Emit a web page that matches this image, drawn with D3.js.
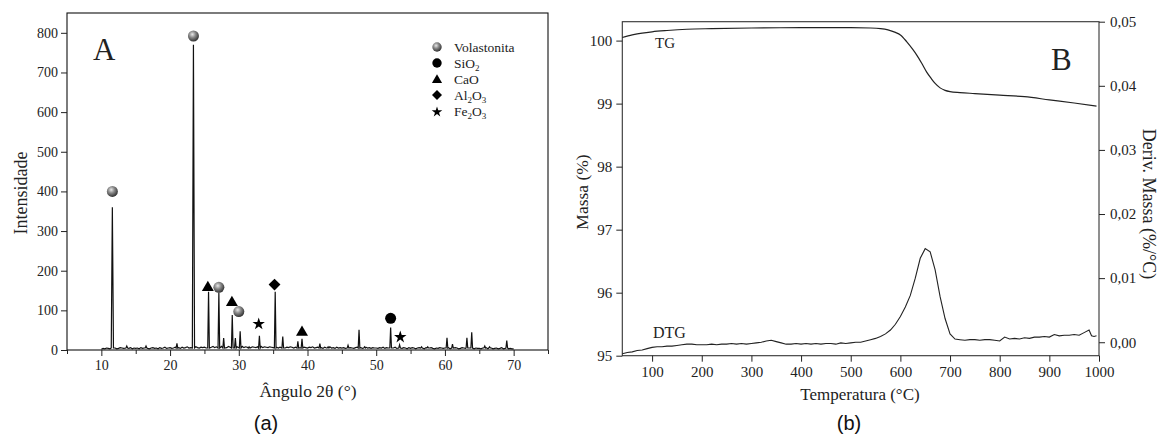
<!DOCTYPE html>
<html>
<head>
<meta charset="utf-8">
<script src="https://cdn.jsdelivr.net/npm/d3@7"></script>
<style>
  body { margin: 0; background: #fff; }
  svg { display: block; }
  .tick text { fill: #222; }
  .tick line { stroke: #222; }
  .title { font-family: "Liberation Serif", "Times New Roman", serif; fill: #222; }
  .caption { font-family: "Liberation Sans", "Open Sans", sans-serif; fill: #111; font-size: 20px; }
</style>
</head>
<body>
<div id="vis"></div>
<script>
// Two panels: (a) XRD pattern with phase markers, (b) TG / DTG curves

/* *************************** Data ***************************** */

// (a) diffractogram: baseline read every 0.25 deg from 10 to 70
var baseStart = 10;
var baseStep = 0.25;
var baseCounts = [
    2, 4, 3, 5, 4, 3, 6, 4, 5, 3, 4, 6, 5, 4, 3, 5, 4, 6, 3, 5,
    4, 5, 3, 6, 4, 5, 7, 4, 3, 5, 6, 4, 5, 3, 6, 4, 5, 7, 4, 5,
    6, 4, 5, 7, 5, 6, 4, 7, 5, 6, 8, 5, 6, 7, 5, 8, 6, 5, 7, 6,
    7, 5, 8, 6, 7, 9, 6, 8, 7, 6, 9, 7, 8, 6, 9, 7, 8, 10, 7, 8,
    8, 7, 9, 6, 8, 7, 9, 6, 8, 7, 6, 8, 7, 9, 6, 8, 7, 6, 8, 7,
    6, 8, 7, 5, 7, 6, 8, 5, 7, 6, 8, 7, 5, 7, 6, 8, 6, 5, 7, 6,
    5, 7, 6, 8, 5, 6, 7, 5, 6, 4, 7, 5, 6, 8, 5, 6, 4, 7, 5, 6,
    5, 6, 4, 7, 5, 6, 5, 4, 6, 7, 5, 6, 4, 5, 7, 5, 6, 4, 6, 5,
    5, 4, 6, 5, 7, 4, 6, 5, 4, 6, 5, 7, 4, 6, 5, 4, 6, 5, 3, 6,
    4, 6, 5, 3, 5, 6, 4, 5, 3, 6, 4, 5, 6, 4, 3, 5, 4, 6, 5, 4,
    5, 4, 6, 3, 5, 4, 6, 5, 3, 4, 6, 5, 4, 3, 5, 6, 4, 3, 5, 4,
    4, 3, 5, 4, 6, 3, 4, 5, 3, 4, 5, 3, 4, 6, 3, 4, 5, 3, 4, 3,
    3
];

// (a) peaks: position (2theta) and intensity
var peakAngle = [11.6, 13.7, 16.5, 21.0, 23.4, 25.6, 27.1, 27.8, 29.05, 29.5, 30.2, 31.5,
    33.0, 35.3, 36.4, 38.6, 39.2, 41.8, 43.0, 45.9, 47.5, 48.3, 52.1, 53.4,
    56.6, 57.5, 60.3, 61.1, 63.2, 63.9, 65.8, 66.5, 69.0];
var peakCounts = [360, 10, 10, 17, 770, 147, 145, 30, 88, 30, 47, 8,
    36, 147, 34, 22, 28, 16, 8, 12, 51, 8, 57, 13,
    8, 8, 31, 15, 31, 45, 10, 8, 24];

// (a) phase markers
var phaseNames = ['Volastonita', 'SiO2', 'CaO', 'Al2O3', 'Fe2O3'];
var markerPhase = ['Volastonita', 'Volastonita', 'Volastonita', 'Volastonita',
    'SiO2', 'CaO', 'CaO', 'CaO', 'Al2O3', 'Fe2O3', 'Fe2O3'];
var markerAngle = [11.6, 23.4, 27.1, 30.0, 52.1, 25.5, 29.0, 39.2, 35.2, 32.9, 53.5];
var markerCounts = [400, 792, 158, 97, 80, 160, 122, 47, 165, 68, 35];

var xTicksA = [10, 20, 30, 40, 50, 60, 70];
var xMinorA = [5, 15, 25, 35, 45, 55, 65, 75];
var yTicksA = [0, 100, 200, 300, 400, 500, 600, 700, 800];

// (b) TG curve
var tgTemp = [40, 60, 80, 100, 130, 170, 220, 300, 400, 500, 540, 560, 575, 590, 600,
    613, 625, 633, 643, 653, 662, 670, 680, 690, 700, 720, 750, 800, 850, 900, 950, 995];
var tgMass = [100.05, 100.09, 100.12, 100.14, 100.16, 100.18, 100.19, 100.2, 100.205,
    100.205, 100.2, 100.19, 100.17, 100.13, 100.09, 99.98, 99.86, 99.77, 99.64, 99.5,
    99.4, 99.32, 99.25, 99.21, 99.19, 99.175, 99.16, 99.135, 99.11, 99.06, 99.01, 98.96];

// (b) DTG curve (%/°C)
var dtgTemp = [40, 50, 60, 70, 80, 90, 100, 110, 120, 130, 140, 150, 160, 170, 180, 190,
    200, 210, 220, 230, 240, 250, 260, 270, 280, 290, 300, 310, 320, 330, 340, 350,
    360, 370, 380, 390, 400, 410, 420, 430, 440, 450, 460, 470, 480, 490, 500, 510,
    520, 530, 540, 550, 560, 570, 580, 590, 600, 610, 620, 630, 640, 650, 660, 670,
    680, 690, 700, 710, 720, 730, 740, 750, 760, 770, 780, 790, 800, 810, 820, 830,
    840, 850, 860, 870, 880, 890, 900, 910, 920, 930, 940, 950, 960, 970, 980, 985,
    990, 995];
var dtgValue = [-0.0018, -0.0016, -0.0015, -0.0013, -0.0012, -0.0010, -0.0008, -0.0007,
    -0.0007, -0.0006, -0.0006, -0.0005, -0.0004, -0.0003, -0.0003, -0.0004,
    -0.0004, -0.0004, -0.0003, -0.0004, -0.0003, -0.0003, -0.0002, -0.0003,
    -0.0002, -0.0003, -0.0002, -0.0001, 0.0000, 0.0002, 0.0003, 0.0001,
    -0.0001, -0.0003, -0.0003, -0.0002, -0.0003, -0.0002, -0.0003, -0.0002,
    -0.0003, -0.0002, -0.0002, -0.0003, -0.0001, -0.0002, -0.0001, 0.0000,
    0.0000, 0.0002, 0.0004, 0.0006, 0.0009, 0.0013, 0.0019, 0.0028,
    0.0040, 0.0055, 0.0073, 0.0100, 0.0131, 0.0146, 0.0141, 0.0113,
    0.0071, 0.0037, 0.0013, 0.0005, 0.0004, 0.0003, 0.0004, 0.0004,
    0.0003, 0.0004, 0.0004, 0.0003, 0.0002, 0.0008, 0.0005, 0.0006,
    0.0005, 0.0007, 0.0006, 0.0008, 0.0008, 0.0009, 0.0008, 0.0012,
    0.0010, 0.0011, 0.0011, 0.0012, 0.0011, 0.0015, 0.0019, 0.0010,
    0.0009, 0.0010];

var xTicksB = [100, 200, 300, 400, 500, 600, 700, 800, 900, 1000];
var yTicksB = [95, 96, 97, 98, 99, 100];
var y2TicksB = [0, 0.01, 0.02, 0.03, 0.04, 0.05];

/* *************************** Settings ***************************** */

var width = 1159;
var height = 436;
var serif = '"Liberation Serif", "Times New Roman", serif';

var frameA = { left: 67, right: 548, top: 13, bottom: 350 };
var frameB = { left: 622.3, right: 1099, top: 21.7, bottom: 355.7 };

var svg = d3.select('#vis')
    .append('svg')
    .attr('width', width)
    .attr('height', height);

var defs = svg.append('defs');
var grad = defs.append('radialGradient')
    .attr('id', 'sphere')
    .attr('cx', '40%').attr('cy', '35%').attr('r', '65%');
grad.append('stop').attr('offset', '0%').attr('stop-color', '#e8e8e8');
grad.append('stop').attr('offset', '45%').attr('stop-color', '#8a8a8a');
grad.append('stop').attr('offset', '100%').attr('stop-color', '#333');

var commaFormat = d3.formatLocale({ decimal: ',', thousands: '.', grouping: [3], currency: ['', ''] });

// style an axis group: serif labels, no domain line
var styleAxis = function(sel, size) {
    sel.attr('font-family', serif).attr('font-size', size);
    sel.select('.domain').remove();
};

/* *************************** Panel A ***************************** */

var xA = d3.scaleLinear().domain([5, 75]).range([frameA.left, frameA.right]);
var yA = d3.scaleLinear().domain([0, 850]).range([frameA.bottom, frameA.top]);

var gA = svg.append('g');

gA.append('rect')
    .attr('x', frameA.left).attr('y', frameA.top)
    .attr('width', frameA.right - frameA.left)
    .attr('height', frameA.bottom - frameA.top)
    .attr('fill', 'none').attr('stroke', '#111').attr('stroke-width', 1.1);

gA.append('g')
    .attr('transform', 'translate(0,' + frameA.bottom + ')')
    .call(d3.axisBottom(xA).tickValues(xTicksA).tickSize(6).tickPadding(4).tickFormat(d3.format('d')))
    .call(styleAxis, 14);

gA.append('g')
    .attr('transform', 'translate(0,' + frameA.bottom + ')')
    .call(d3.axisBottom(xA).tickValues(xMinorA).tickSize(4).tickFormat(''))
    .call(styleAxis, 14);

gA.append('g')
    .attr('transform', 'translate(' + frameA.left + ',0)')
    .call(d3.axisLeft(yA).tickValues(yTicksA).tickSize(6).tickPadding(3).tickFormat(d3.format('d')))
    .call(styleAxis, 14);

// build pattern: baseline points away from peaks, plus a narrow spike per peak
var patternPts = [];
baseCounts.forEach(function(c, i) {
    var a = baseStart + i * baseStep;
    var nearPeak = peakAngle.some(function(p) { return Math.abs(p - a) < 0.2; });
    if (!nearPeak) patternPts.push([a, c]);
});
peakAngle.forEach(function(p, i) {
    var w = peakCounts[i] > 300 ? 0.16 : 0.12;
    patternPts.push([p - w, 5]);
    patternPts.push([p, peakCounts[i]]);
    patternPts.push([p + w, 5]);
});
patternPts.sort(function(a, b) { return a[0] - b[0]; });

gA.append('path')
    .datum(patternPts)
    .attr('fill', 'none')
    .attr('stroke', '#111')
    .attr('stroke-width', 1.2)
    .attr('d', d3.line()
        .x(function(d) { return xA(d[0]); })
        .y(function(d) { return yA(d[1]); }));

function drawMarker(g, phase, x, y, scale) {
    var s = scale || 1;
    if (phase === 'Volastonita') {
        g.append('circle').attr('cx', x).attr('cy', y).attr('r', 5.5 * s)
            .attr('fill', 'url(#sphere)');
    } else if (phase === 'SiO2') {
        g.append('circle').attr('cx', x).attr('cy', y).attr('r', 5.5 * s)
            .attr('fill', '#000');
    } else if (phase === 'CaO') {
        g.append('path').attr('d', d3.symbol().type(d3.symbolTriangle).size(62 * s * s)())
            .attr('transform', 'translate(' + x + ',' + (y + 1) + ')').attr('fill', '#000');
    } else if (phase === 'Al2O3') {
        g.append('path').attr('d', d3.symbol().type(d3.symbolSquare).size(70 * s * s)())
            .attr('transform', 'translate(' + x + ',' + y + ') rotate(45)').attr('fill', '#000');
    } else {
        g.append('path').attr('d', d3.symbol().type(d3.symbolStar).size(48 * s * s)())
            .attr('transform', 'translate(' + x + ',' + (y + 1) + ')').attr('fill', '#000');
    }
}

markerPhase.forEach(function(p, i) {
    drawMarker(gA, p, xA(markerAngle[i]), yA(markerCounts[i]));
});

// legend
var legendText = {
    'Volastonita': [['Volastonita', 0]],
    'SiO2': [['SiO', 0], ['2', 1]],
    'CaO': [['CaO', 0]],
    'Al2O3': [['Al', 0], ['2', 1], ['O', 0], ['3', 1]],
    'Fe2O3': [['Fe', 0], ['2', 1], ['O', 0], ['3', 1]]
};
phaseNames.forEach(function(p, i) {
    var ly = 47 + i * 16;
    drawMarker(gA, p, 437, ly, 0.85);
    var t = gA.append('text').attr('class', 'title')
        .attr('x', 454).attr('y', ly + 4.5)
        .style('font-size', '13.5px');
    var shifted = false;
    legendText[p].forEach(function(part) {
        var ts = t.append('tspan').text(part[0]);
        if (part[1] && !shifted) { ts.attr('dy', 3.5).style('font-size', '9px'); shifted = true; }
        else if (!part[1] && shifted) { ts.attr('dy', -3.5); shifted = false; }
    });
});

gA.append('text').attr('class', 'title')
    .attr('x', 93).attr('y', 60)
    .style('font-size', '31px')
    .text('A');

gA.append('text').attr('class', 'title')
    .attr('text-anchor', 'middle')
    .attr('transform', 'translate(27,193) rotate(-90)')
    .style('font-size', '18px')
    .text('Intensidade');

gA.append('text').attr('class', 'title')
    .attr('text-anchor', 'middle')
    .attr('x', 308).attr('y', 397)
    .style('font-size', '17.5px')
    .text('Ângulo 2θ (°)');

gA.append('text').attr('class', 'caption')
    .attr('text-anchor', 'middle')
    .attr('x', 266).attr('y', 430)
    .text('(a)');

/* *************************** Panel B ***************************** */

var xB = d3.scaleLinear().domain([40, 1000]).range([frameB.left, frameB.right]);
var yB = d3.scaleLinear().domain([95, 100.3]).range([frameB.bottom, frameB.top]);
var y2B = d3.scaleLinear().domain([-0.0021, 0.05]).range([frameB.bottom, frameB.top]);

var gB = svg.append('g');

gB.append('rect')
    .attr('x', frameB.left).attr('y', frameB.top)
    .attr('width', frameB.right - frameB.left)
    .attr('height', frameB.bottom - frameB.top)
    .attr('fill', 'none').attr('stroke', '#333').attr('stroke-width', 1.1);

gB.append('g')
    .attr('transform', 'translate(0,' + frameB.bottom + ')')
    .call(d3.axisBottom(xB).tickValues(xTicksB).tickSize(6).tickPadding(5).tickFormat(d3.format('d')))
    .call(styleAxis, 15);

gB.append('g')
    .attr('transform', 'translate(' + frameB.left + ',0)')
    .call(d3.axisLeft(yB).tickValues(yTicksB).tickSize(6).tickPadding(4).tickFormat(d3.format('d')))
    .call(styleAxis, 15);

gB.append('g')
    .attr('transform', 'translate(' + frameB.right + ',0)')
    .call(d3.axisRight(y2B).tickValues(y2TicksB).tickSize(6).tickPadding(5)
        .tickFormat(commaFormat.format('.2f')))
    .call(styleAxis, 15);

gB.append('path')
    .datum(tgTemp)
    .attr('fill', 'none')
    .attr('stroke', '#222')
    .attr('stroke-width', 1.2)
    .attr('d', d3.line()
        .curve(d3.curveMonotoneX)
        .x(function(d) { return xB(d); })
        .y(function(d, i) { return yB(tgMass[i]); }));

gB.append('path')
    .datum(dtgTemp)
    .attr('fill', 'none')
    .attr('stroke', '#222')
    .attr('stroke-width', 1.1)
    .attr('d', d3.line()
        .x(function(d) { return xB(d); })
        .y(function(d, i) { return y2B(dtgValue[i]); }));

gB.append('text').attr('class', 'title')
    .attr('x', 655).attr('y', 48)
    .style('font-size', '15px')
    .text('TG');

gB.append('text').attr('class', 'title')
    .attr('x', 653).attr('y', 338)
    .style('font-size', '16px')
    .text('DTG');

gB.append('text').attr('class', 'title')
    .attr('x', 1051).attr('y', 70)
    .style('font-size', '31px')
    .text('B');

gB.append('text').attr('class', 'title')
    .attr('text-anchor', 'middle')
    .attr('transform', 'translate(588,192) rotate(-90)')
    .style('font-size', '17.5px')
    .text('Massa (%)');

gB.append('text').attr('class', 'title')
    .attr('text-anchor', 'middle')
    .attr('transform', 'translate(1143,204) rotate(90)')
    .style('font-size', '18px')
    .text('Deriv. Massa (%/°C)');

gB.append('text').attr('class', 'title')
    .attr('text-anchor', 'middle')
    .attr('x', 860).attr('y', 400)
    .style('font-size', '17px')
    .text('Temperatura (°C)');

gB.append('text').attr('class', 'caption')
    .attr('text-anchor', 'middle')
    .attr('x', 849).attr('y', 430)
    .text('(b)');
</script>
</body>
</html>
